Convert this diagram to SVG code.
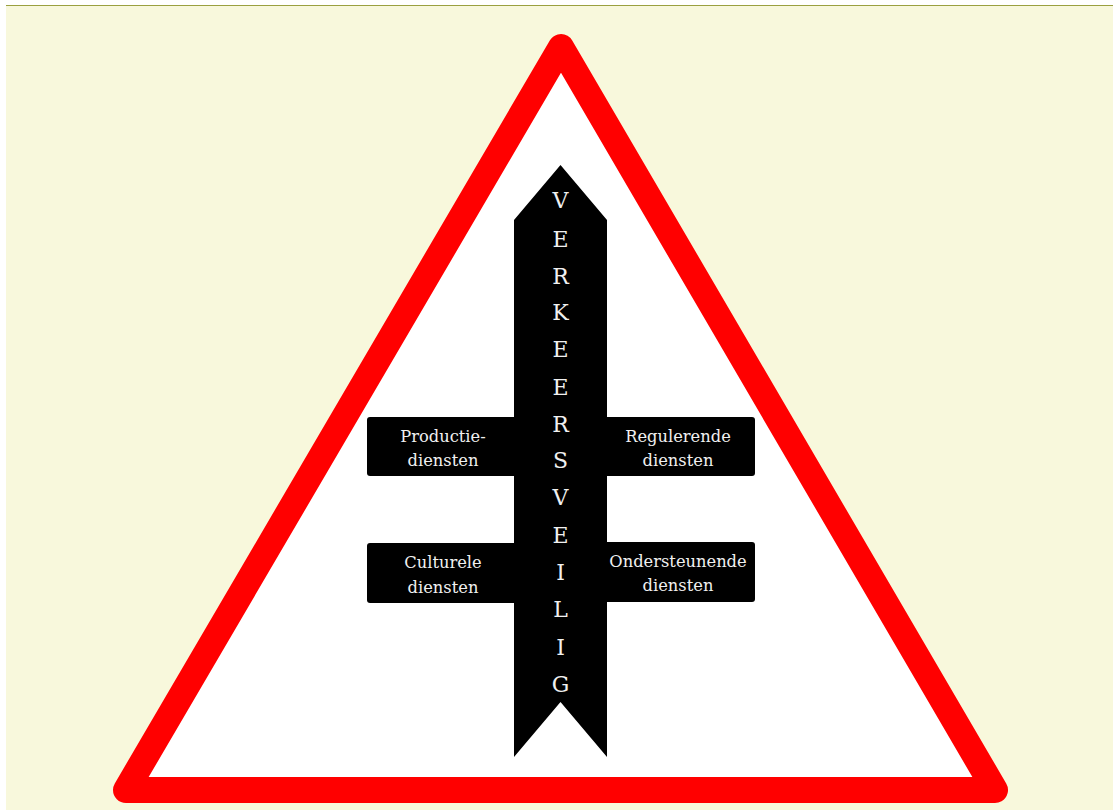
<svg xmlns="http://www.w3.org/2000/svg" width="1113" height="810" viewBox="0 0 1113 810">
<style>
.lbl{font-family:"DejaVu Serif","Liberation Serif",serif;font-size:16.3px;fill:#f0f0f0;text-anchor:middle}
.ltr{font-family:"DejaVu Serif","Liberation Serif",serif;font-size:22px;fill:#f0f0f0;text-anchor:middle}
.box{fill:#000}
</style>
<rect x="0" y="0" width="1113" height="810" fill="#ffffff"/>
<rect x="6" y="6" width="1107" height="804" fill="#f8f8dc"/>
<line x1="6" y1="5.5" x2="1113" y2="5.5" stroke="#9aa040" stroke-width="1"/>
<g id="triangle">
<polygon points="561,47 995,790 126,790" fill="#ffffff" stroke="#ff0000" stroke-width="26" stroke-linejoin="round"/>
</g>
<g id="box-productie">
<rect class="box" x="367" y="417" width="160" height="59" rx="3"/>
<text class="lbl" x="443" y="442">Productie-</text>
<text class="lbl" x="443" y="466">diensten</text>
</g>
<g id="box-regulerende">
<rect class="box" x="595" y="417" width="160" height="59" rx="3"/>
<text class="lbl" x="678" y="442">Regulerende</text>
<text class="lbl" x="678" y="466">diensten</text>
</g>
<g id="box-culturele">
<rect class="box" x="367" y="543" width="160" height="60" rx="3"/>
<text class="lbl" x="443" y="568">Culturele</text>
<text class="lbl" x="443" y="593">diensten</text>
</g>
<g id="box-ondersteunende">
<rect class="box" x="595" y="542" width="160" height="60" rx="3"/>
<text class="lbl" x="678" y="567">Ondersteunende</text>
<text class="lbl" x="678" y="591">diensten</text>
</g>
<g id="arrow">
<polygon points="560.5,165 607,220 607,757 560.5,702 514,757 514,220" fill="#000"/>
<text class="ltr" x="560.5" y="208">V</text>
<text class="ltr" x="560.5" y="247">E</text>
<text class="ltr" x="560.5" y="284">R</text>
<text class="ltr" x="560.5" y="320">K</text>
<text class="ltr" x="560.5" y="357">E</text>
<text class="ltr" x="560.5" y="395">E</text>
<text class="ltr" x="560.5" y="432">R</text>
<text class="ltr" x="560.5" y="468">S</text>
<text class="ltr" x="560.5" y="505">V</text>
<text class="ltr" x="560.5" y="543">E</text>
<text class="ltr" x="560.5" y="580">I</text>
<text class="ltr" x="560.5" y="617">L</text>
<text class="ltr" x="560.5" y="655">I</text>
<text class="ltr" x="560.5" y="692">G</text>
</g>
<g id="connectors"></g>
</svg>
